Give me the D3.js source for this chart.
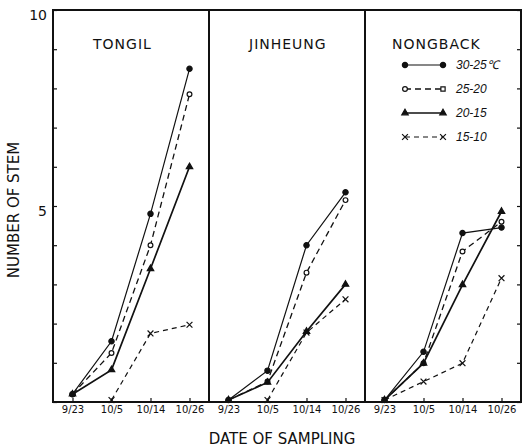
<!DOCTYPE html>
<head>
  <meta charset="utf-8">
  <script src="https://d3js.org/d3.v7.min.js"></script>
  <style>
    body { margin: 0; background: #fff; }
    text { font-family: 'DejaVu Sans', sans-serif; fill: #111; }
    .title { font-size: 14px; letter-spacing: 1px; }
    .tickLabel { font-size: 14px; }
    .dateLabel { font-size: 10px; }
    .axisTitle { font-size: 15px; }
    .legendText { font-size: 12px; font-style: italic; font-family: 'Liberation Sans', sans-serif; }
  </style>
</head>
<body>
<div id="chart"></div>
<script>

//////////////////// data ////////////////////

const dates = ["9/23", "10/5", "10/14", "10/26"];
const varieties = ["TONGIL", "JINHEUNG", "NONGBACK"];
const tempRanges = ["30-25\u2103", "25-20", "20-15", "15-10"];

// number of stems, one array per temperature range, in date order
const tongil = [
  [0.2, 1.55, 4.8, 8.5],
  [0.2, 1.25, 4.0, 7.85],
  [0.2, 0.82, 3.4, 6.0],
  [null, 0.05, 1.75, 1.97]
];
const jinheung = [
  [0.05, 0.8, 4.0, 5.35],
  [0.05, 0.52, 3.3, 5.15],
  [0.05, 0.5, 1.8, 3.0],
  [null, 0.05, 1.77, 2.62]
];
const nongback = [
  [0.05, 1.28, 4.31, 4.45],
  [0.05, 0.99, 3.84, 4.6],
  [0.05, 0.99, 2.99, 4.86],
  [0.05, 0.52, 0.99, 3.16]
];
const panelData = [tongil, jinheung, nongback];

const yTicks = d3.range(0, 11);

//////////////////// set up ////////////////////

const W = 524, H = 447;
const frame = { left: 53, right: 521, top: 10, bottom: 402 };

const svg = d3.select("#chart").append("svg")
    .attr("width", W)
    .attr("height", H);

const panelScale = d3.scaleBand()
    .domain(varieties)
    .range([frame.left, frame.right]);

const y = d3.scaleLinear()
    .domain([0, 10])
    .range([frame.bottom, frame.top]);

const x = d3.scalePoint()
    .domain(dates)
    .range([0, panelScale.bandwidth()])
    .padding(0.5);

// series styles: line dash, width, marker
const seriesStyle = [
  { dash: null, width: 1.2, symbol: d3.symbolCircle, size: 22, fill: "#111" },
  { dash: "6,4", width: 1.3, symbol: d3.symbolCircle, size: 18, fill: "#fff" },
  { dash: null, width: 1.7, symbol: d3.symbolTriangle, size: 18, fill: "#111" },
  { dash: "5,4", width: 1.2, symbol: d3.symbolTimes || d3.symbolCross, size: 24, fill: "none" }
];

//////////////////// axes ////////////////////

svg.append("g")
    .attr("transform", "translate(" + frame.left + ",0)")
    .call(d3.axisLeft(y).tickValues(yTicks).tickSize(-4).tickPadding(6)
        .tickFormat(d => (d === 5 || d === 10) ? d : ""))
    .call(g => g.select(".domain").remove())
    .call(g => g.selectAll("line").attr("stroke", "#111").attr("stroke-width", 1.2))
    .call(g => g.selectAll("text").attr("class", "tickLabel").attr("font-family", null).attr("font-size", null).attr("dy", "0.7em"));

svg.append("g")
    .attr("transform", "translate(" + frame.right + ",0)")
    .call(d3.axisRight(y).tickValues(yTicks).tickSize(-4).tickFormat(""))
    .call(g => g.select(".domain").remove())
    .call(g => g.selectAll("line").attr("stroke", "#111").attr("stroke-width", 1.2));

//////////////////// panels ////////////////////

const line = d3.line()
    .defined(d => d != null)
    .x((d, i) => x(dates[i]))
    .y(d => y(d));

varieties.forEach((name, p) => {
  const g = svg.append("g")
      .attr("transform", "translate(" + panelScale(name) + ",0)");

  g.append("g")
      .attr("transform", "translate(0," + frame.bottom + ")")
      .call(d3.axisBottom(x).tickSize(-4).tickPadding(4))
      .call(a => a.select(".domain").remove())
      .call(a => a.selectAll("line").attr("stroke", "#111").attr("stroke-width", 1.2))
      .call(a => a.selectAll("text").attr("class", "dateLabel").attr("font-family", null).attr("font-size", null));

  g.append("text")
      .attr("class", "title")
      .attr("x", p === 2 ? 27 : 40)
      .attr("y", 49)
      .text(name);

  panelData[p].forEach((vals, s) => {
    const st = seriesStyle[s];
    g.append("path")
        .datum(vals)
        .attr("d", line)
        .attr("fill", "none")
        .attr("stroke", "#111")
        .attr("stroke-width", st.width)
        .attr("stroke-dasharray", st.dash);

    g.selectAll(".m" + s)
        .data(vals.map((v, i) => ({ v, i })).filter(d => d.v != null))
        .enter().append("path")
        .attr("transform", d => "translate(" + x(dates[d.i]) + "," + y(d.v) + ")")
        .attr("d", d3.symbol().type(st.symbol).size(st.size))
        .attr("fill", st.fill)
        .attr("stroke", "#111")
        .attr("stroke-width", 1.2);
  });
});

//////////////////// frame ////////////////////

svg.append("rect")
    .attr("x", frame.left)
    .attr("y", frame.top)
    .attr("width", frame.right - frame.left)
    .attr("height", frame.bottom - frame.top)
    .attr("fill", "none")
    .attr("stroke", "#111")
    .attr("stroke-width", 2);

svg.selectAll(".divider")
    .data(varieties.slice(1))
    .enter().append("line")
    .attr("x1", d => panelScale(d))
    .attr("x2", d => panelScale(d))
    .attr("y1", frame.top)
    .attr("y2", frame.bottom)
    .attr("stroke", "#111")
    .attr("stroke-width", 2);

//////////////////// legend ////////////////////

const legendY = d3.scalePoint().domain(tempRanges).range([65, 137]);
const legend = svg.append("g");

tempRanges.forEach((t, s) => {
  const st = seriesStyle[s];
  const ly = legendY(t);
  legend.append("line")
      .attr("x1", 405).attr("x2", 443)
      .attr("y1", ly).attr("y2", ly)
      .attr("stroke", "#111")
      .attr("stroke-width", st.width)
      .attr("stroke-dasharray", st.dash);
  [405, 443].forEach((lx, k) => {
    legend.append("path")
        .attr("transform", "translate(" + lx + "," + ly + ")")
        .attr("d", d3.symbol().type(s === 1 && k === 1 ? d3.symbolSquare : st.symbol).size(st.size))
        .attr("fill", st.fill)
        .attr("stroke", "#111")
        .attr("stroke-width", 1.2);
  });
  legend.append("text")
      .attr("class", "legendText")
      .attr("x", 456)
      .attr("y", ly + 4)
      .text(t);
});

//////////////////// axis titles ////////////////////

svg.append("text")
    .attr("class", "axisTitle")
    .attr("transform", "translate(19,210) rotate(-90)")
    .attr("text-anchor", "middle")
    .text("NUMBER OF STEM");

svg.append("text")
    .attr("class", "axisTitle")
    .attr("x", 282)
    .attr("y", 444)
    .attr("text-anchor", "middle")
    .text("DATE OF SAMPLING");

</script>
</body>
